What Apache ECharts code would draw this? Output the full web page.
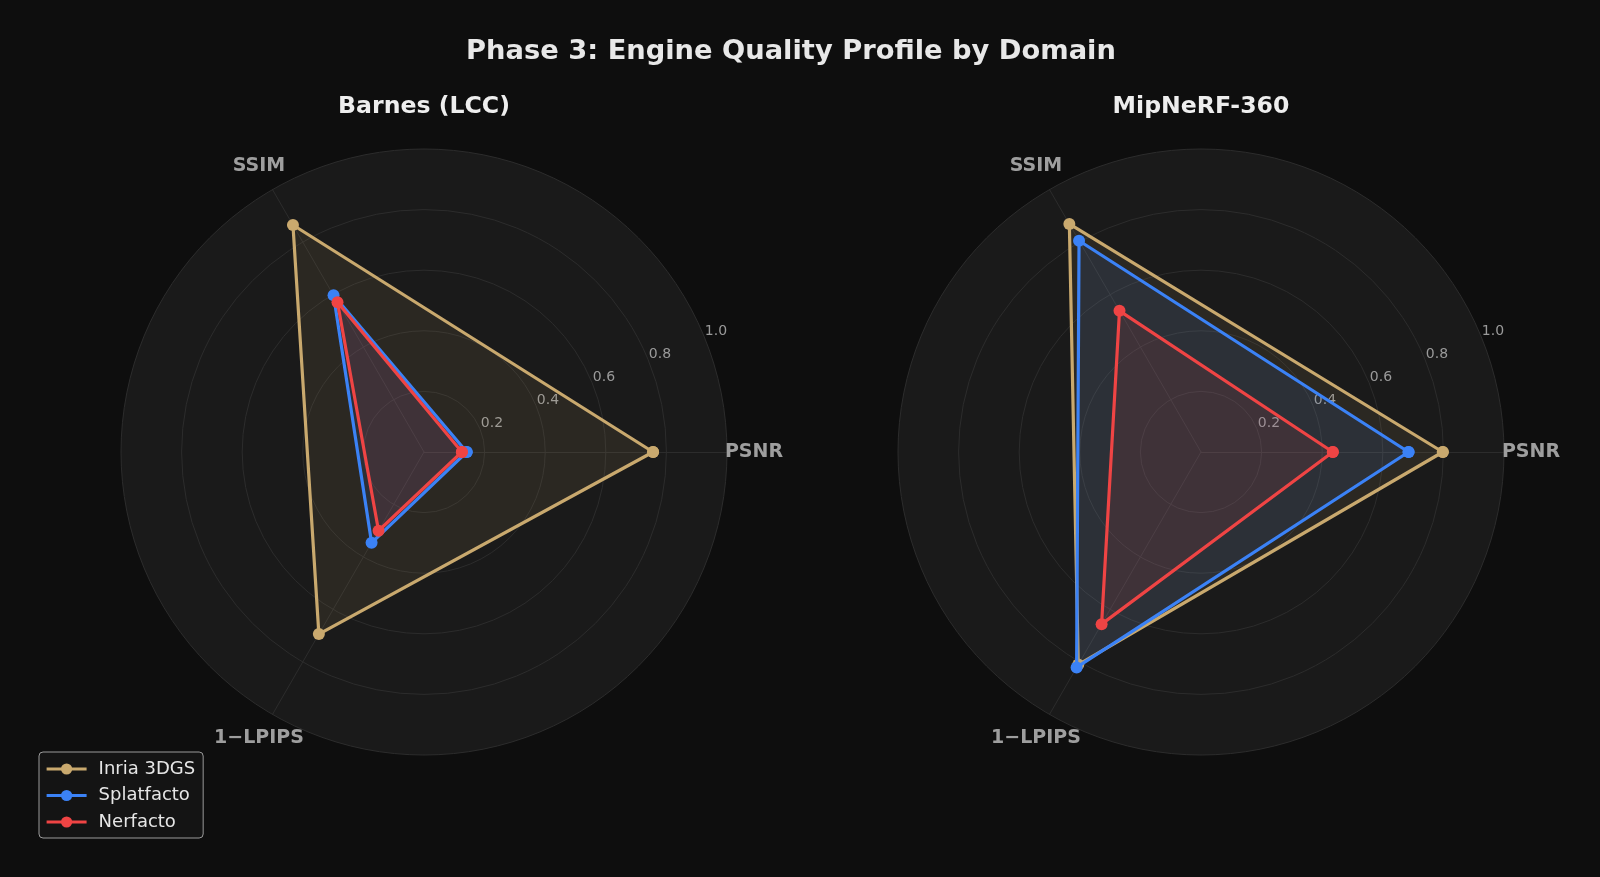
<!DOCTYPE html>
<html><head><meta charset="utf-8">
<script src="https://cdn.jsdelivr.net/npm/echarts@6/dist/echarts.min.js"></script>
<style>html,body{margin:0;padding:0;background:#0e0e0e}#c{width:1600px;height:877px}</style>
</head><body><div id="c"></div>
<script>
// ---- data ----
const categories = ['PSNR', 'SSIM', '1\u2212LPIPS'];
const domains = ['Barnes (LCC)', 'MipNeRF-360'];
const engines = ['Inria 3DGS', 'Splatfacto', 'Nerfacto'];
const barnesInria = [0.756, 0.865, 0.694];
const barnesSplat = [0.141, 0.597, 0.346];
const barnesNerf  = [0.125, 0.571, 0.300];
const mipInria = [0.798, 0.869, 0.810];
const mipSplat = [0.685, 0.805, 0.821];
const mipNerf  = [0.435, 0.538, 0.656];
const radialTicks = [0.2, 0.4, 0.6, 0.8, 1.0];
const chartTitle = 'Phase 3: Engine Quality Profile by Domain';

// ---- styles / layout ----
const colors = ['#c9a96e', '#3b82f6', '#ef4444'];
const centers = [[424, 452], [1201, 452]];
const R = 303;
const LABEL_OFF = 13;
const FONT = 'DejaVu Sans';
const domainData = [[barnesInria, barnesSplat, barnesNerf], [mipInria, mipSplat, mipNerf]];
const step = 360 / categories.length;   // angular spacing of the category spokes

const chart = echarts.init(document.getElementById('c'), null, {renderer: 'canvas'});

const series = [];
domainData.forEach((sets, d) => {
  sets.forEach((vals, e) => {
    // [radius, angle] with the angle taken from the category index; close the loop
    const pts = vals.map((v, k) => [v, k * step]);
    pts.push([vals[0], categories.length * step]);
    series.push({
      type: 'line', name: engines[e], coordinateSystem: 'polar', polarIndex: d,
      data: pts, symbol: 'circle', symbolSize: 12, showAllSymbol: true, clip: false,
      lineStyle: {color: colors[e], width: 3.2},
      itemStyle: {color: colors[e]},
      areaStyle: {color: colors[e], opacity: 0.1},
      z: 3 + e, animation: false
    });
  });
});

const option = {
  backgroundColor: '#0e0e0e',
  animation: false,
  title: [
    {text: chartTitle, left: 791, top: 37, textAlign: 'center', padding: 0,
     textStyle: {color: '#e8e8e8', fontSize: 27.3, fontWeight: 'bold', fontFamily: FONT, lineHeight: 30}},
    {text: domains[0], left: centers[0][0], top: 94, textAlign: 'center', padding: 0,
     textStyle: {color: '#eeeeee', fontSize: 23.6, fontWeight: 'bold', fontFamily: FONT, lineHeight: 26}},
    {text: domains[1], left: centers[1][0], top: 94, textAlign: 'center', padding: 0,
     textStyle: {color: '#eeeeee', fontSize: 23.6, fontWeight: 'bold', fontFamily: FONT, lineHeight: 26}}
  ],
  legend: {
    data: engines, orient: 'vertical', left: 39, top: 752,
    itemWidth: 40, itemHeight: 14, itemGap: 8.5,
    lineStyle: {width: 3.2},
    padding: [8, 8, 7, 6], backgroundColor: '#141414', borderColor: '#9a9a9a', borderWidth: 1, borderRadius: 4,
    textStyle: {color: '#e6e6e6', fontSize: 18, fontFamily: FONT, padding: [0, 0, 0, 7]}
  },
  radar: centers.map(c => ({
    center: c, radius: R, startAngle: 0, shape: 'circle', splitNumber: 5,
    indicator: categories.map(n => ({name: n, min: 0, max: 1})),
    nameGap: 27,
    axisName: {color: '#9e9e9e', fontSize: 19, fontWeight: 'bold', fontFamily: FONT, align: 'center', verticalAlign: 'middle'},
    splitLine: {lineStyle: {color: '#2c2c2c', width: 1}},
    splitArea: {show: true, areaStyle: {color: ['#1a1a1a']}},
    axisLine: {lineStyle: {color: '#2c2c2c', width: 1}},
    axisLabel: {show: false}, axisTick: {show: false}
  })),
  polar: [
    {center: centers[0], radius: R},
    {center: centers[1], radius: R},
    {center: centers[0], radius: R + LABEL_OFF},
    {center: centers[1], radius: R + LABEL_OFF}
  ],
  angleAxis: [0, 1].map(i => ({
    polarIndex: i, type: 'value', min: 0, max: 360, interval: step,
    startAngle: 0, clockwise: false, show: false
  })).concat([2, 3].map(i => ({
    polarIndex: i, type: 'value', min: 0, max: 360, startAngle: 22.5, show: false
  }))),
  radiusAxis: [0, 1].map(i => ({polarIndex: i, type: 'value', min: 0, max: 1, show: false}))
    .concat([2, 3].map(i => ({
      polarIndex: i, type: 'value', min: -LABEL_OFF / R, max: 1, z: 1,
      axisLine: {show: false}, axisTick: {show: false}, splitLine: {show: false}, splitArea: {show: false},
      axisLabel: {customValues: radialTicks, align: 'center', verticalAlign: 'middle', margin: 0,
        color: '#9a9a9a', fontSize: 14, fontFamily: FONT, formatter: v => v.toFixed(1)}
    }))),
  series: series
};
chart.setOption(option);
</script></body></html>
